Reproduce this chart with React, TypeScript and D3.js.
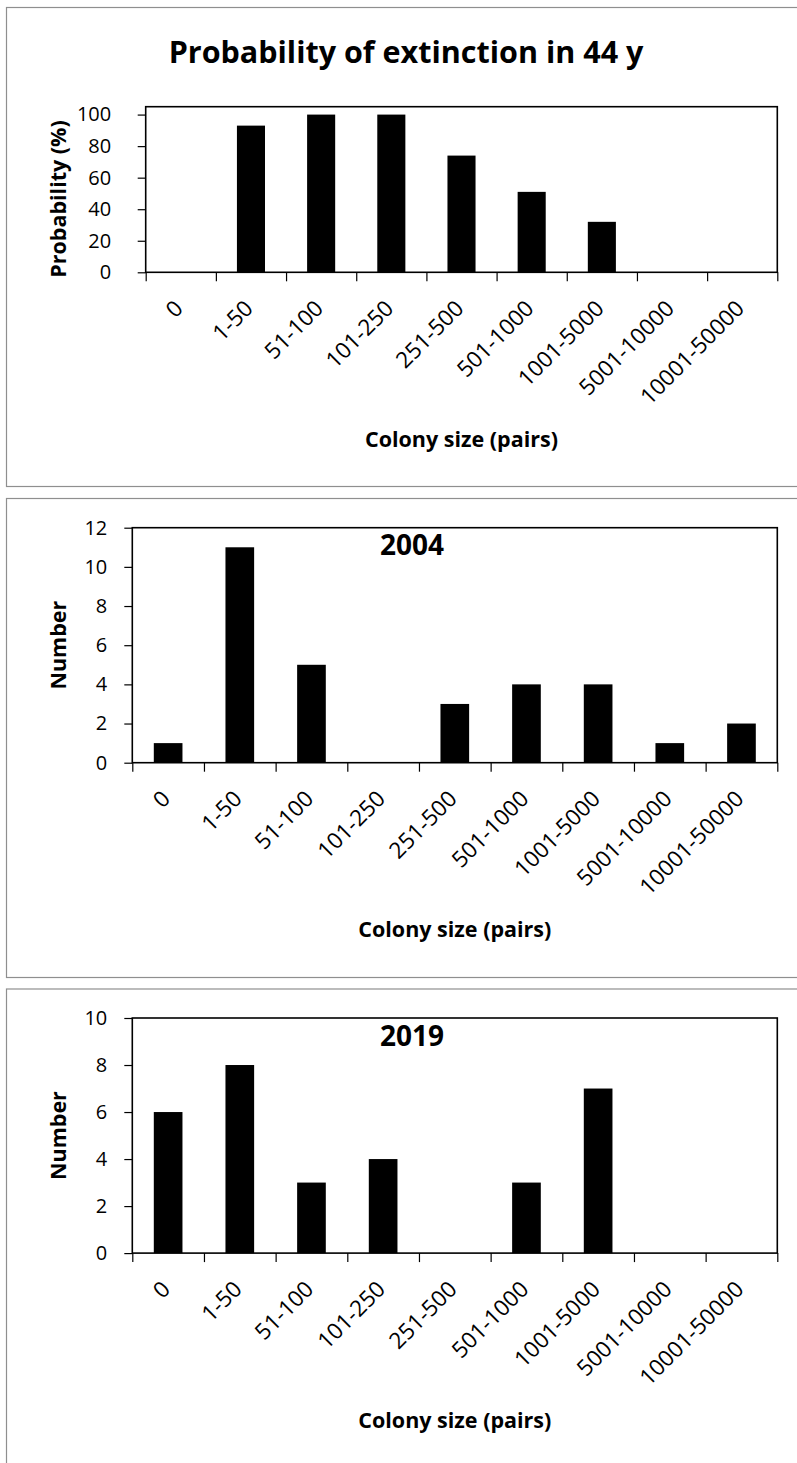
import React, { useEffect, useRef } from "react";
import * as d3 from "d3";

const categories = ["0", "1-50", "51-100", "101-250", "251-500", "501-1000", "1001-5000", "5001-10000", "10001-50000"];
const extinctionProb = [0, 93, 100, 100, 74, 51, 32, 0, 0];
const colonies2004 = [1, 11, 5, 0, 3, 4, 4, 1, 2];
const colonies2019 = [6, 8, 3, 4, 0, 3, 7, 0, 0];
const probTicks = [0, 20, 40, 60, 80, 100];
const ticks2004 = [0, 2, 4, 6, 8, 10, 12];
const ticks2019 = [0, 2, 4, 6, 8, 10];

const FONT = "'Open Sans', 'Noto Sans', sans-serif";

function BarPanel({ top, plot, values, yMax, yTicks, yTitle, yTitleY, labelPad, title, tag }) {
  const ref = useRef(null);

  useEffect(() => {
    const g = d3.select(ref.current);
    g.selectAll("*").remove();

    const x = d3.scaleBand()
      .domain(categories)
      .range([plot.left, plot.right])
      .paddingInner(0.6)
      .paddingOuter(0.3);
    // tick marks sit on the category boundaries
    const xEdge = d3.scaleLinear().domain([0, categories.length]).range([plot.left, plot.right]);
    const y = d3.scaleLinear().domain([0, yMax]).range([plot.bottom, plot.top]);

    // panel frame
    g.append("rect")
      .attr("x", 6.5)
      .attr("y", 0.5)
      .attr("width", 800)
      .attr("height", 479)
      .attr("fill", "#fff")
      .attr("stroke", "#8f8f8f")
      .attr("stroke-width", 1.2);

    // bars
    g.selectAll("rect.bar")
      .data(values)
      .enter()
      .append("rect")
      .attr("class", "bar")
      .attr("x", (d, i) => x(categories[i]))
      .attr("y", (d) => y(d))
      .attr("width", x.bandwidth())
      .attr("height", (d) => plot.bottom - y(d))
      .style("fill", "#000");

    // plot area border
    g.append("rect")
      .attr("x", plot.left)
      .attr("y", plot.top)
      .attr("width", plot.right - plot.left)
      .attr("height", plot.bottom - plot.top)
      .attr("fill", "none")
      .attr("stroke", "#000")
      .attr("stroke-width", 1.6);

    // y axis
    const yAxis = g.append("g")
      .attr("transform", `translate(${plot.left},0)`)
      .call(d3.axisLeft(y).tickValues(yTicks).tickSize(8).tickSizeOuter(0).tickPadding(labelPad));
    yAxis.select(".domain").remove();
    yAxis.selectAll("line").attr("stroke", "#000").attr("stroke-width", 1.2);
    yAxis.selectAll("text")
      .attr("fill", "#000")
      .style("font-family", FONT)
      .style("font-size", "20px");

    // x axis ticks
    const xAxis = g.append("g")
      .attr("transform", `translate(0,${plot.bottom})`)
      .call(d3.axisBottom(xEdge).ticks(categories.length).tickSize(9).tickSizeOuter(0).tickFormat(() => ""));
    xAxis.select(".domain").remove();
    xAxis.selectAll("line").attr("stroke", "#000").attr("stroke-width", 1.2);

    // rotated category labels
    g.selectAll("text.cat")
      .data(categories)
      .enter()
      .append("text")
      .attr("class", "cat")
      .attr("transform", (d) => `translate(${x(d) + x.bandwidth() / 2 - 2.5},${plot.bottom + 31.5}) rotate(-45)`)
      .attr("text-anchor", "end")
      .attr("dominant-baseline", "central")
      .style("font-family", FONT)
      .style("font-size", "22.5px")
      .text((d) => d);

    // axis titles
    g.append("text")
      .attr("x", (plot.left + plot.right) / 2)
      .attr("y", plot.bottom + 174.5)
      .attr("text-anchor", "middle")
      .style("font-family", FONT)
      .style("font-weight", "bold")
      .style("font-size", "21.5px")
      .text("Colony size (pairs)");

    g.append("text")
      .attr("transform", `translate(57,${yTitleY}) rotate(-90)`)
      .attr("text-anchor", "middle")
      .attr("dominant-baseline", "central")
      .style("font-family", FONT)
      .style("font-weight", "bold")
      .style("font-size", "21.5px")
      .text(yTitle);

    if (title) {
      g.append("text")
        .attr("x", 406)
        .attr("y", 55.7)
        .attr("text-anchor", "middle")
        .style("font-family", FONT)
        .style("font-weight", "bold")
        .style("font-size", "30.5px")
        .text(title);
    }
    if (tag) {
      g.append("text")
        .attr("x", 412)
        .attr("y", plot.top + 27.5)
        .attr("text-anchor", "middle")
        .style("font-family", FONT)
        .style("font-weight", "bold")
        .style("font-size", "28px")
        .text(tag);
    }
  }, [top, plot, values, yMax, yTicks, yTitle, yTitleY, labelPad, title, tag]);

  return <g ref={ref} transform={`translate(0,${top})`}></g>;
}

const plot1 = { left: 145.7, right: 777.3, top: 99.7, bottom: 265.3 };
const plot2 = { left: 132.3, right: 777.3, top: 29.7, bottom: 264.7 };
const plot3 = { left: 132.3, right: 777.3, top: 29.5, bottom: 264.6 };

export default function App() {
  return (
    <svg
      width={797}
      height={1463}
      style={{ position: "absolute", left: 0, top: 0, background: "#fff" }}
    >
      <BarPanel
        top={7}
        plot={plot1}
        values={extinctionProb}
        yMax={105}
        yTicks={probTicks}
        yTitle="Probability (%)"
        yTitleY={192}
        labelPad={26.5}
        title="Probability of extinction in 44 y"
        tag={null}
      />
      <BarPanel
        top={498}
        plot={plot2}
        values={colonies2004}
        yMax={12}
        yTicks={ticks2004}
        yTitle="Number"
        yTitleY={(plot2.top + plot2.bottom) / 2}
        labelPad={17}
        title={null}
        tag="2004"
      />
      <BarPanel
        top={988.5}
        plot={plot3}
        values={colonies2019}
        yMax={10}
        yTicks={ticks2019}
        yTitle="Number"
        yTitleY={(plot3.top + plot3.bottom) / 2}
        labelPad={17}
        title={null}
        tag="2019"
      />
    </svg>
  );
}
